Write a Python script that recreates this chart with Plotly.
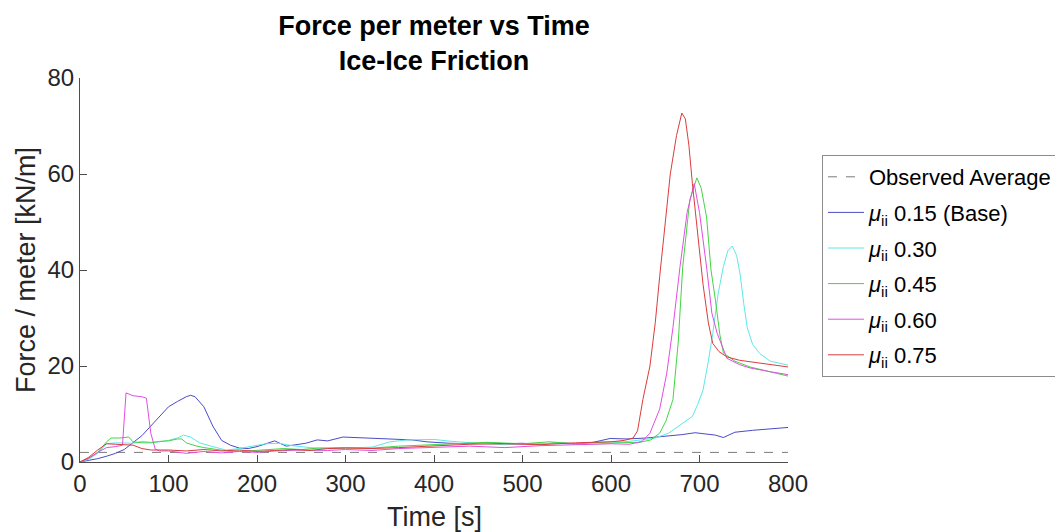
import plotly.graph_objects as go

# ---------------- data ----------------
obs_t = [0, 800]
obs_v = [2.0, 2.0]

t_015 = [0,10,20,30,40,50,60,70,80,90,100,110,120,125,130,140,150,160,170,180,190,200,210,220,233,245,255,268,280,297,310,325,343,360,375,392,405,418,440,460,480,500,520,540,560,580,599,618,640,660,680,695,710,718,727,740,760,780,800]
f_015 = [0,0.3,0.7,1.2,1.8,2.6,4.0,5.5,7.5,9.5,11.5,12.6,13.6,13.9,13.6,11.5,7.5,4.5,3.5,2.9,2.8,3.2,3.8,4.4,3.3,3.7,3.9,4.6,4.4,5.2,5.1,5.0,4.9,4.8,4.6,4.2,4.0,3.9,3.8,4.0,3.8,3.9,3.7,4.0,3.8,4.1,4.9,4.8,5.0,5.3,5.7,6.1,5.8,5.6,5.1,6.2,6.6,6.9,7.2]

t_030 = [0,10,20,30,40,50,60,70,80,90,100,110,117,125,135,150,165,180,195,210,225,240,260,280,300,330,350,370,400,420,450,480,510,540,570,600,630,650,665,681,692,698,704,710,715,721,727,732,737,742,746,750,754,760,768,780,800]
f_030 = [0,0.6,1.8,3.8,4.0,4.0,3.9,4.3,4.1,4.2,4.5,5.0,5.6,5.2,4.0,3.2,2.5,2.8,3.3,3.8,3.9,3.4,3.0,2.8,2.9,3.1,4.2,4.6,4.7,4.3,3.9,3.6,3.8,3.9,3.6,3.9,4.5,5.0,6.0,8.0,9.5,12.0,15.0,21.0,26.8,35.0,40.7,44.0,45.0,43.0,39.0,33.0,28.0,24.5,22.6,21.0,20.2]

t_045 = [0,10,20,30,35,45,55,60,70,80,90,100,110,115,120,130,140,150,170,190,210,230,250,270,300,330,360,400,430,460,500,530,560,600,630,645,655,662,670,676,681,689,697,702,708,713,718,723,727,740,757,780,800]
f_045 = [0,0.8,2.0,4.2,5.0,5.0,5.2,4.2,4.0,4.0,4.3,4.4,4.8,4.8,4.0,3.4,3.0,2.7,2.2,2.3,2.5,2.8,2.6,2.9,3.0,2.9,3.3,3.6,3.8,4.1,3.8,4.2,3.8,4.2,4.0,4.6,6.0,8.5,13.0,25.0,40.6,54.6,59.2,57.0,51.0,40.0,33.7,26.5,22.7,21.0,19.8,18.7,17.9]

t_060 = [0,10,20,30,40,48,52,60,70,75,80,85,90,100,120,140,160,180,200,220,250,280,300,330,360,400,440,480,520,560,600,621,635,644,655,663,670,678,686,694,700,708,714,720,731,745,757,780,800]
f_060 = [0,0.8,2.0,3.0,3.2,3.5,14.4,13.8,13.6,13.3,6.0,2.7,2.3,2.3,1.8,2.2,1.9,2.2,2.0,2.3,2.5,2.4,2.6,2.4,2.8,3.0,3.3,3.0,3.4,3.6,3.8,3.7,4.3,6.0,11.0,18.5,28.0,40.7,52.0,58.0,52.0,40.6,31.0,26.8,21.6,20.3,19.6,18.8,18.2]

t_075 = [0,10,20,30,40,50,60,70,80,100,120,140,160,180,200,220,240,260,280,300,330,360,400,440,480,520,560,600,615,625,630,636,644,650,655,661,667,674,680,684,688,692,698,704,710,715,722,731,745,760,780,800]
f_075 = [0,1.0,2.5,3.8,3.7,3.6,3.5,2.8,2.5,2.5,2.3,2.6,2.3,2.5,2.2,2.4,2.6,2.4,2.8,2.9,2.8,3.0,3.4,3.7,3.8,3.6,4.0,4.2,4.5,5.0,6.5,13.0,20.0,29.0,38.6,50.0,60.0,68.0,72.7,71.5,66.0,58.0,47.0,37.0,29.0,24.7,23.0,21.9,21.2,20.8,20.2,19.8]

names = ["Observed Average",
         "<i>μ</i><sub>ii</sub> 0.15 (Base)",
         "<i>μ</i><sub>ii</sub> 0.30",
         "<i>μ</i><sub>ii</sub> 0.45",
         "<i>μ</i><sub>ii</sub> 0.60",
         "<i>μ</i><sub>ii</sub> 0.75"]

series = [(t_015, f_015), (t_030, f_030), (t_045, f_045), (t_060, f_060), (t_075, f_075)]
colors = ["#4b4bc8", "#5ce8e8", "#44d444", "#e24ee2", "#dc3c3c"]

for t, f in series:
    assert len(t) == len(f), (len(t), len(f))

fig = go.Figure()
fig.add_trace(go.Scatter(x=obs_t, y=obs_v, mode="lines", name=names[0],
                         line=dict(color="#7a7a7a", width=1, dash="dash"),
                         legendgroup="g0"))
for i, ((t, f), c) in enumerate(zip(series, colors)):
    fig.add_trace(go.Scatter(x=t, y=f, mode="lines", name=names[i + 1],
                             line=dict(color=c, width=1),
                             legendgroup="g%d" % (i + 1)))

axis_col = "#4d4d4d"
fig.update_layout(
    width=1055, height=532,
    margin=dict(l=80, r=267, t=78, b=70, autoexpand=False),
    paper_bgcolor="white", plot_bgcolor="white",
    font=dict(family="Liberation Sans, Arial, sans-serif", color="#262626"),
    title=dict(text="<b>Force per meter vs Time<br>Ice-Ice Friction</b>",
               x=0.5, xref="paper", xanchor="center",
               y=1 - 35 / 532, yref="container", yanchor="middle",
               font=dict(size=27, color="black")),
    showlegend=True,
    legend=dict(x=1.048, xanchor="left", y=(462 - 155) / 384, yanchor="top",
                font=dict(size=22, color="black"),
                bordercolor="#8c8c8c", borderwidth=1, bgcolor="white",
                traceorder="grouped", tracegroupgap=4, itemwidth=36),
    annotations=[dict(text="Time [s]", xref="paper", yref="paper",
                      x=0.5, y=-(517 - 462) / 384, xanchor="center", yanchor="middle",
                      showarrow=False, font=dict(size=27, color="#262626"))],
)
fig.update_xaxes(range=[0, 800], tickvals=[0,100,200,300,400,500,600,700,800],
                 showline=True, linecolor=axis_col, linewidth=1,
                 ticks="inside", ticklen=7, tickcolor=axis_col,
                 showgrid=False, zeroline=False,
                 tickfont=dict(size=24, color="#262626"))
fig.update_yaxes(range=[0, 80], tickvals=[0, 20, 40, 60, 80],
                 showline=True, linecolor=axis_col, linewidth=1,
                 ticks="inside", ticklen=7, tickcolor=axis_col,
                 showgrid=False, zeroline=False,
                 tickfont=dict(size=24, color="#262626"),
                 title=dict(text="Force / meter [kN/m]", font=dict(size=27, color="#262626"), standoff=4))

fig.write_html("out.html")
